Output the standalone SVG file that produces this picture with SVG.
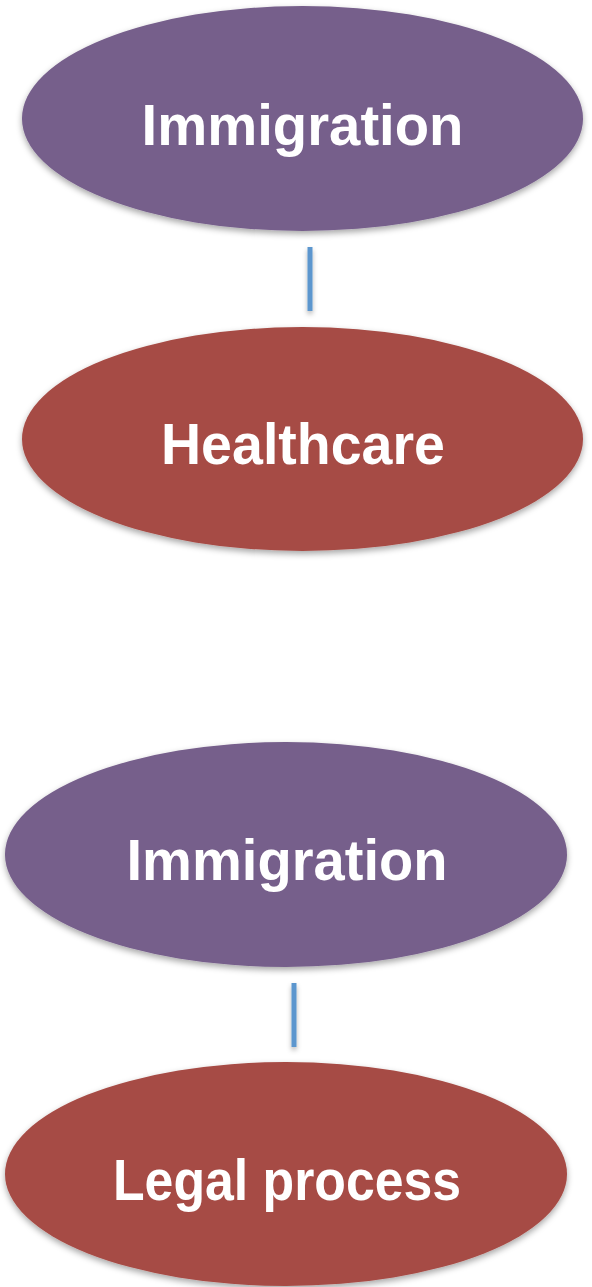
<svg xmlns="http://www.w3.org/2000/svg" width="592" height="1287" viewBox="0 0 592 1287">
<defs>
<filter id="sh" x="-10%" y="-10%" width="120%" height="130%">
<feDropShadow dx="0" dy="3" stdDeviation="3" flood-color="#000" flood-opacity="0.35"/>
</filter>
<filter id="shl" filterUnits="userSpaceOnUse" x="0" y="0" width="592" height="1287">
<feDropShadow dx="0" dy="3" stdDeviation="2.5" flood-color="#000" flood-opacity="0.3"/>
</filter>
<style>
.purple{fill:#765F8B;filter:url(#sh);}
.red{fill:#A64B45;filter:url(#sh);}
.lbl{font-family:"Liberation Sans",Arial,sans-serif;font-weight:bold;font-size:58px;fill:#FFFFFF;text-anchor:middle;}
.conn{stroke:#5B96CE;stroke-width:5;fill:none;}
</style>
</defs>
<rect width="592" height="1287" fill="#FFFFFF"/>
<g id="connectors" filter="url(#shl)">
<line class="conn" x1="310" y1="247" x2="310" y2="311"/>
<line class="conn" x1="294" y1="983" x2="294" y2="1047"/>
</g>
<g id="node-immigration-1">
<ellipse class="purple" cx="302.5" cy="118.5" rx="280.5" ry="112.5"/>
<text class="lbl" x="302.5" y="145" textLength="322" lengthAdjust="spacingAndGlyphs">Immigration</text>
</g>
<g id="node-healthcare">
<ellipse class="red" cx="302.5" cy="439" rx="280.5" ry="112"/>
<text class="lbl" x="303" y="464" textLength="284" lengthAdjust="spacingAndGlyphs">Healthcare</text>
</g>
<g id="node-immigration-2">
<ellipse class="purple" cx="286" cy="854.5" rx="281" ry="112.5"/>
<text class="lbl" x="287" y="880" textLength="321" lengthAdjust="spacingAndGlyphs">Immigration</text>
</g>
<g id="node-legal-process">
<ellipse class="red" cx="286" cy="1174" rx="281" ry="112"/>
<text class="lbl" x="287" y="1200" textLength="348" lengthAdjust="spacingAndGlyphs">Legal process</text>
</g>
</svg>
